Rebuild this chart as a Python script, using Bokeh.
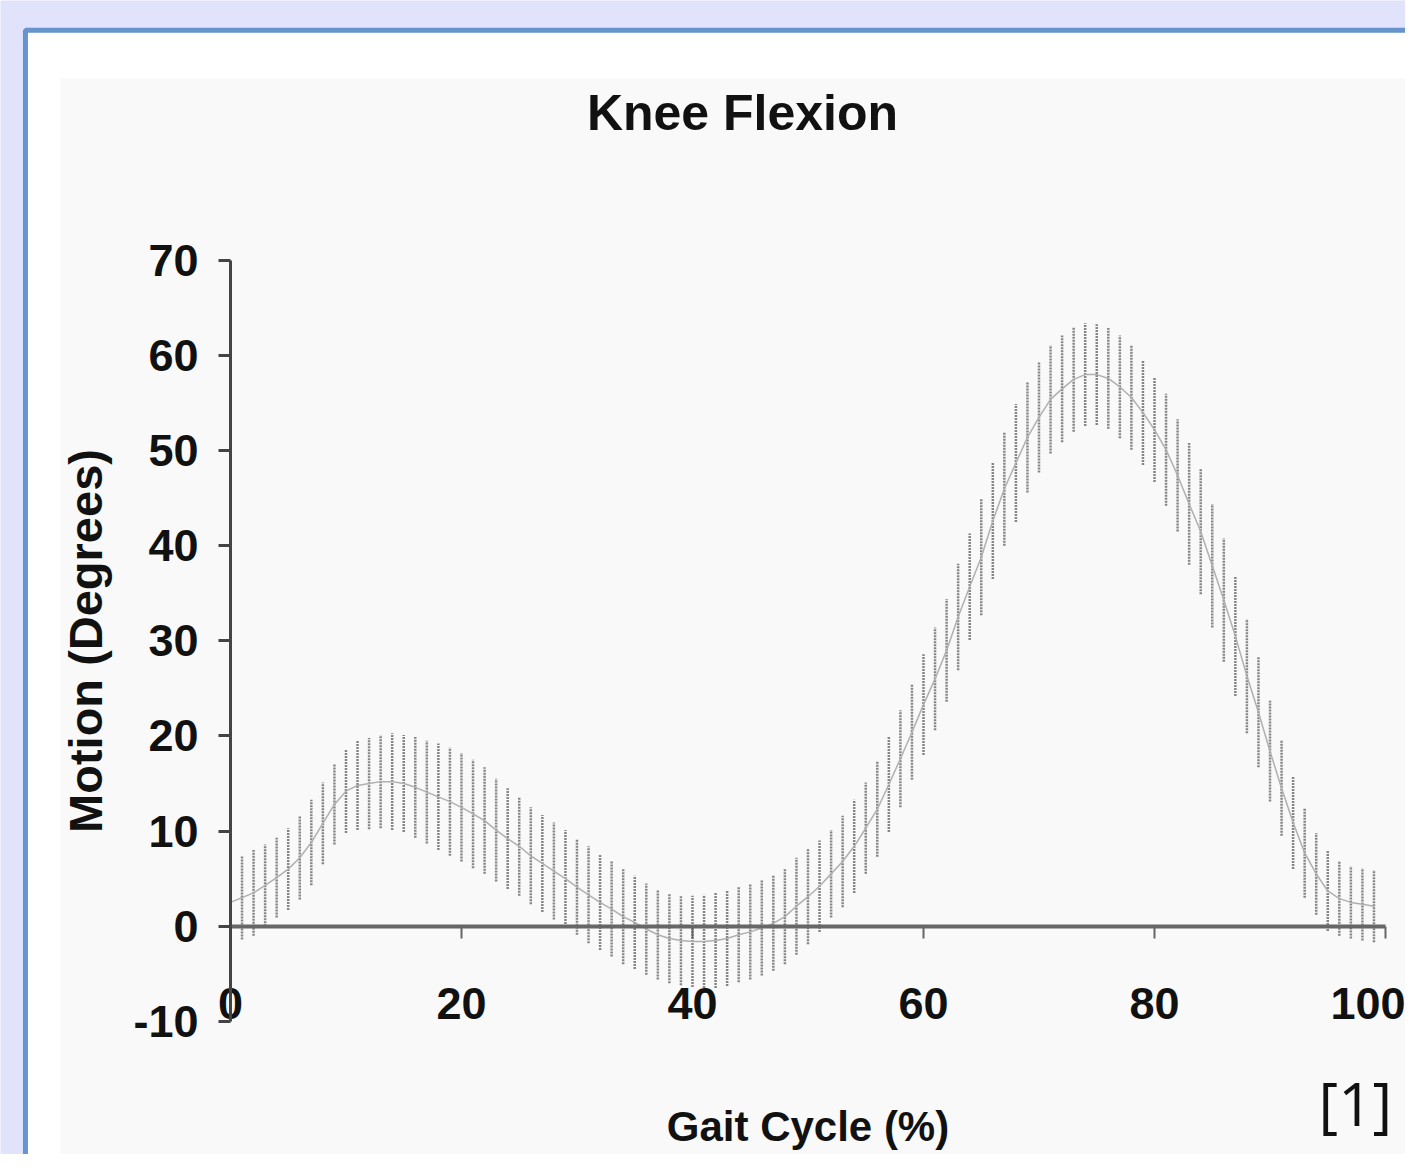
from bokeh.plotting import figure
from bokeh.models import (Range1d, LinearAxis, FixedTicker, Label,
                          ColumnDataSource, PrintfTickFormatter)
from bokeh.embed import file_html
from bokeh.resources import INLINE

# ---- data ----
gait_pct = list(range(100))
knee_mean = [2.5, 3.0, 3.5, 4.3, 5.1, 6.0, 7.2, 8.8, 10.8, 12.8,
             14.2, 14.8, 15.0, 15.2, 15.2, 15.0, 14.6, 14.1, 13.6, 13.1,
             12.5, 11.8, 11.1, 10.1, 9.2, 8.4, 7.4, 6.6, 5.8, 5.0,
             4.1, 3.3, 2.5, 1.8, 1.0, 0.4, -0.3, -0.9, -1.3, -1.5,
             -1.6, -1.6, -1.5, -1.3, -0.9, -0.6, -0.2, 0.3, 1.0, 2.1,
             3.1, 4.2, 5.5, 6.8, 8.4, 10.3, 12.3, 14.9, 17.6, 20.4,
             23.3, 26.0, 29.0, 32.5, 35.7, 38.8, 42.6, 46.0, 48.7, 51.4,
             53.5, 55.4, 56.5, 57.5, 58.0, 58.0, 57.6, 56.7, 55.6, 54.0,
             52.2, 50.1, 47.4, 44.4, 41.5, 37.9, 34.3, 30.5, 26.3, 22.5,
             18.4, 14.5, 10.9, 7.7, 5.5, 3.7, 2.9, 2.5, 2.3, 2.1]
knee_sd = [4.5, 4.4, 4.5, 4.3, 4.2, 4.3, 4.4, 4.5, 4.3, 4.2,
           4.4, 4.7, 4.8, 4.9, 5.1, 5.1, 5.3, 5.4, 5.6, 5.7,
           5.7, 5.7, 5.6, 5.4, 5.3, 5.2, 5.1, 5.1, 5.1, 5.1,
           5.0, 5.1, 5.0, 5.0, 5.0, 4.9, 4.8, 4.7, 4.7, 4.7,
           4.8, 4.9, 5.0, 5.0, 5.0, 5.0, 5.0, 5.0, 5.0, 5.1,
           5.0, 4.8, 4.6, 4.8, 4.9, 4.8, 5.0, 5.0, 5.1, 5.0,
           5.3, 5.4, 5.4, 5.6, 5.6, 6.1, 6.1, 6.0, 6.2, 5.8,
           5.8, 5.7, 5.6, 5.5, 5.4, 5.3, 5.3, 5.4, 5.5, 5.5,
           5.5, 5.9, 5.9, 6.4, 6.6, 6.5, 6.5, 6.3, 6.0, 5.8,
           5.3, 5.0, 4.9, 4.7, 4.3, 4.2, 3.9, 3.8, 3.8, 3.8]
x_ticks = [0, 20, 40, 60, 80, 100]
y_ticks = [-10, 0, 10, 20, 30, 40, 50, 60, 70]

title_text = "Knee Flexion"
x_label = "Gait Cycle (%)"
y_label = "Motion (Degrees)"
ref_text = "[1]"

lo = [m - s for m, s in zip(knee_mean, knee_sd)]
hi = [m + s for m, s in zip(knee_mean, knee_sd)]
src = ColumnDataSource(dict(x=gait_pct, mean=knee_mean, lo=lo, hi=hi))

W, H = 1405, 1154
p = figure(width=W, height=H, title=None,
           x_range=Range1d(-19.91, 101.73), y_range=Range1d(-24.01, 97.34),
           x_axis_type=None, y_axis_type=None,
           min_border=0, toolbar_location=None, output_backend="svg")
p.outline_line_color = None
p.xgrid.visible = False
p.ygrid.visible = False
p.background_fill_color = "#e1e2fb"
p.border_fill_color = "#e1e2fb"

# slide panel (white box with blue border) and inner chart area
p.quad(left=[-17.75], right=[140], top=[94.2], bottom=[-60],
       fill_color="white", line_color="#6694cc", line_width=5, level="underlay")
p.quad(left=[-14.72], right=[140], top=[89.14], bottom=[-60],
       fill_color="#f9f9f9", line_color=None, level="underlay")

# error bars and mean line
p.segment(x0="x", y0="lo", x1="x", y1="hi", source=src,
          line_color="#858585", line_width=2.5, line_dash="2 1")
p.line(x="x", y="mean", source=src, line_color="#b0b0b0", line_width=1.5)

tick_font = "Liberation Sans"

yaxis = LinearAxis(fixed_location=0, bounds=(-10, 70),
                   ticker=FixedTicker(ticks=y_ticks),
                   formatter=PrintfTickFormatter(format="%d"))
yaxis.axis_line_color = "#444444"
yaxis.axis_line_width = 3
yaxis.major_tick_line_color = "#444444"
yaxis.major_tick_line_width = 3
yaxis.major_tick_out = 12
yaxis.major_tick_in = 0
yaxis.minor_tick_line_color = None
yaxis.major_label_text_font = tick_font
yaxis.major_label_text_font_style = "bold"
yaxis.major_label_text_font_size = "45px"
yaxis.major_label_text_color = "#111111"
yaxis.major_label_standoff = 20
yaxis.axis_label = y_label
yaxis.axis_label_text_font = "Liberation Sans"
yaxis.axis_label_text_font_style = "bold"
yaxis.axis_label_text_font_size = "47px"
yaxis.axis_label_text_color = "#111111"
yaxis.axis_label_standoff = 18
p.add_layout(yaxis, "left")

xaxis = LinearAxis(fixed_location=0, bounds=(0, 100),
                   ticker=FixedTicker(ticks=x_ticks),
                   formatter=PrintfTickFormatter(format="%d"))
xaxis.axis_line_color = "#666666"
xaxis.axis_line_width = 4
xaxis.major_tick_line_color = "#666666"
xaxis.major_tick_line_width = 2
xaxis.major_tick_out = 12
xaxis.major_tick_in = 0
xaxis.minor_tick_line_color = None
xaxis.major_label_text_font = tick_font
xaxis.major_label_text_font_style = "bold"
xaxis.major_label_text_font_size = "45px"
xaxis.major_label_text_color = "#111111"
xaxis.major_label_standoff = 50
xaxis.axis_label = x_label
xaxis.axis_label_text_font = "Liberation Sans"
xaxis.axis_label_text_font_style = "bold"
xaxis.axis_label_text_font_size = "42px"
xaxis.axis_label_text_color = "#111111"
xaxis.axis_label_standoff = 80
p.add_layout(xaxis, "below")

p.add_layout(Label(x=44.33, y=85.46, text=title_text, text_align="center",
                   text_baseline="middle", text_font="Liberation Sans",
                   text_font_style="bold", text_font_size="50px",
                   text_color="#111111"))
p.add_layout(Label(x=94.2, y=-18.6, text=ref_text, text_align="left",
                   text_baseline="alphabetic", text_font="Open Sans",
                   text_font_size="60px", text_color="#111111"))

open("out.html", "w").write(file_html(p, INLINE))
